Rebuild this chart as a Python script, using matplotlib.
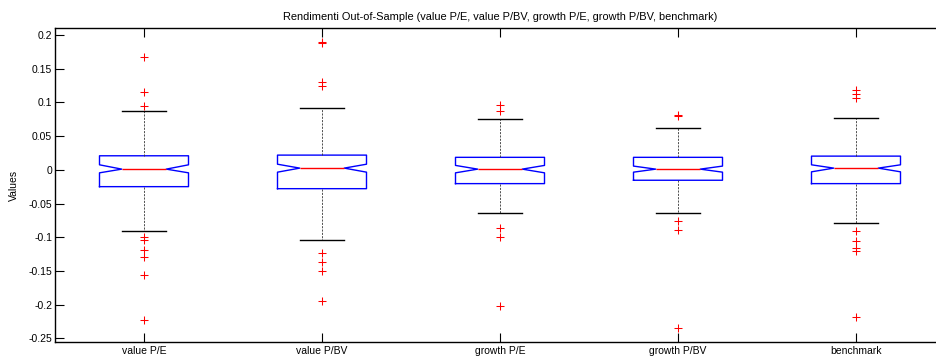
import matplotlib
matplotlib.use("Agg")
import matplotlib.pyplot as plt
from matplotlib.ticker import FuncFormatter

# data
labels = ["value P/E", "value P/BV", "growth P/E", "growth P/BV", "benchmark"]
medians = [0.001, 0.0025, 0.001, 0.001, 0.0025]
q1 = [-0.025, -0.028, -0.0205, -0.0155, -0.0205]
q3 = [0.0208, 0.0218, 0.0185, 0.0185, 0.0203]
notch_lo = [-0.0045, -0.0035, -0.0045, -0.0035, -0.003]
notch_hi = [0.0074, 0.0083, 0.0065, 0.0055, 0.0074]
whisk_lo = [-0.0905, -0.1035, -0.0635, -0.0635, -0.0785]
whisk_hi = [0.0878, 0.0915, 0.0755, 0.0625, 0.0765]
outliers = [
    [0.167, 0.1155, 0.094, -0.1, -0.104, -0.119, -0.13, -0.1565, -0.2235],
    [0.19, 0.188, 0.131, 0.124, -0.1235, -0.1375, -0.1495, -0.1945],
    [0.096, 0.0875, -0.087, -0.0995, -0.2015],
    [0.0815, 0.0805, -0.076, -0.0895, -0.2345],
    [0.118, 0.112, 0.1065, -0.091, -0.106, -0.1165, -0.1205, -0.218],
]

plt.rcParams['font.family'] = ['Liberation Sans', 'DejaVu Sans']

stats = []
for i in range(len(labels)):
    stats.append(dict(label=labels[i], med=medians[i], q1=q1[i], q3=q3[i],
                      cilo=notch_lo[i], cihi=notch_hi[i],
                      whislo=whisk_lo[i], whishi=whisk_hi[i],
                      fliers=outliers[i]))

fig = plt.figure(figsize=(9.37, 3.58), dpi=100)
# right edge of the axes falls just outside the picture, like the reference
ax = fig.add_axes([55/937, 16/358, 890/937, 314/358])

ax.bxp(stats, positions=range(1, 6), widths=0.5, shownotches=True,
       boxprops=dict(color="blue", linewidth=1.0),
       medianprops=dict(color="red", linewidth=1.0),
       whiskerprops=dict(color="#333333", linewidth=0.6, linestyle=(0, (2.5, 1.5))),
       capprops=dict(color="black", linewidth=1.0),
       flierprops=dict(marker="+", markeredgecolor="red", markersize=6,
                       markeredgewidth=0.75, linestyle="none"))

ax.set_xlim(0.5, 5.5)
ax.set_ylim(-0.2555, 0.2104)
ax.set_yticks([0.2, 0.15, 0.1, 0.05, 0, -0.05, -0.1, -0.15, -0.2, -0.25])
ax.yaxis.set_major_formatter(FuncFormatter(lambda v, p: "%g" % round(v, 3)))
ax.set_xticks(range(1, 6))
ax.set_xticklabels(labels)

ax.tick_params(axis="both", direction="in", length=6.4, width=0.8,
               labelsize=7.5, top=True, right=True, color="black")
ax.tick_params(axis="x", pad=3)
ax.tick_params(axis="y", pad=2)
for s in ax.spines.values():
    s.set_linewidth(1.0)

ax.set_ylabel("Values", fontsize=7.5, labelpad=7)
ax.set_title("Rendimenti Out-of-Sample (value P/E, value P/BV, growth P/E, growth P/BV, benchmark)",
             fontsize=7.9, pad=6)

fig.savefig("out.png", dpi=100)
